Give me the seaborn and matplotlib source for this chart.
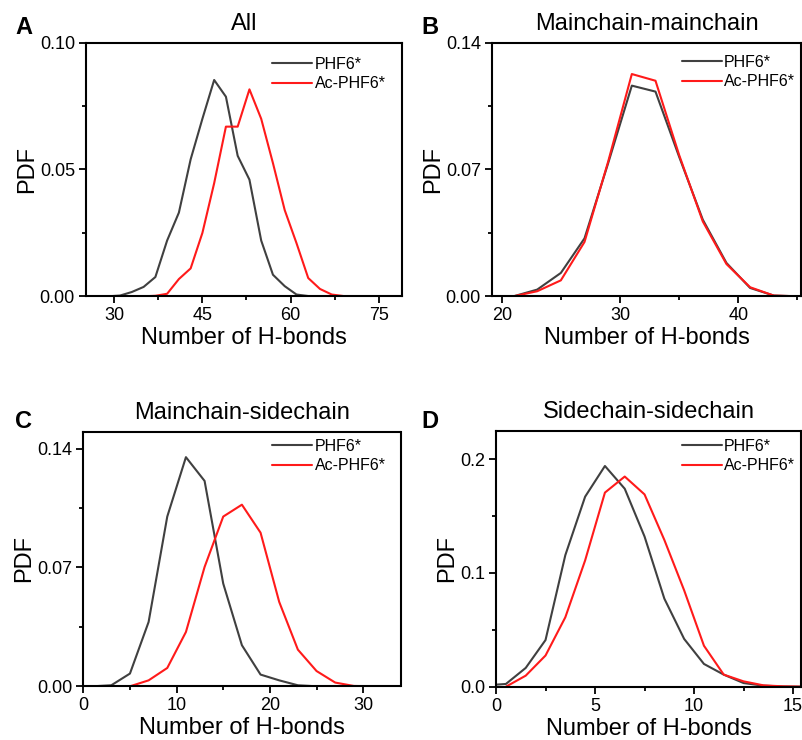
import numpy as np
import pandas as pd
import matplotlib
matplotlib.use("Agg")
import matplotlib.pyplot as plt
from matplotlib.ticker import MultipleLocator, FormatStrFormatter
import seaborn as sns

# ---------------- data ----------------
# Panel A: All
a_x_phf6 = [29, 31, 33, 35, 37, 39, 41, 43, 45, 47, 49, 51, 53, 55, 57, 59, 61, 63, 65, 67, 69]
a_y_phf6 = [0.0, 0.0003, 0.0017, 0.0037, 0.0076, 0.022, 0.033, 0.054, 0.070, 0.0853, 0.0787,
            0.0554, 0.046, 0.022, 0.0085, 0.004, 0.0007, 0.0001, 0.0, 0.0, 0.0]
a_x_ac = [27, 29, 31, 33, 35, 37, 39, 41, 43, 45, 47, 49, 51, 53, 55, 57, 59, 61, 63, 65, 67, 69, 71]
a_y_ac = [0.0, 0.0, 0.0, 0.0, 0.0, 0.0002, 0.001, 0.0068, 0.011, 0.025, 0.0446, 0.0669, 0.0669,
          0.0816, 0.070, 0.0525, 0.034, 0.021, 0.0072, 0.0029, 0.0007, 0.0001, 0.0]

# Panel B: Mainchain-mainchain
b_x = [19, 21, 23, 25, 27, 29, 31, 33, 35, 37, 39, 41, 43, 45]
b_y_phf6 = [0.0, 0.0, 0.0037, 0.0129, 0.032, 0.0735, 0.1163, 0.113, 0.077, 0.0423, 0.0184, 0.0046, 0.0004, 0.0]
b_y_ac = [0.0, 0.0, 0.0028, 0.0088, 0.030, 0.0744, 0.1227, 0.119, 0.078, 0.0413, 0.0178, 0.005, 0.0004, 0.0]

# Panel C: Mainchain-sidechain
c_x_phf6 = [1, 3, 5, 7, 9, 11, 13, 15, 17, 19, 21, 23, 25]
c_y_phf6 = [0.0, 0.0006, 0.0075, 0.0379, 0.100, 0.135, 0.121, 0.0605, 0.0242, 0.0069, 0.0035, 0.0006, 0.0]
c_x_ac = [1, 3, 5, 7, 9, 11, 13, 15, 17, 19, 21, 23, 25, 27, 29, 31]
c_y_ac = [0.0, 0.0, 0.0, 0.0035, 0.0108, 0.032, 0.0703, 0.100, 0.107, 0.0905, 0.0497, 0.0216,
          0.009, 0.0022, 0.0002, 0.0]

# Panel D: Sidechain-sidechain
d_x_phf6 = [0, 0.5, 1.5, 2.5, 3.5, 4.5, 5.5, 6.5, 7.5, 8.5, 9.5, 10.5, 11.5, 12.5, 13.5, 14.5, 15.5]
d_y_phf6 = [0.0018, 0.0024, 0.0165, 0.041, 0.1156, 0.167, 0.194, 0.174, 0.132, 0.0774, 0.042,
            0.020, 0.0106, 0.0032, 0.0009, 0.0002, 0.0]
d_x_ac = [0.5, 1.5, 2.5, 3.5, 4.5, 5.5, 6.5, 7.5, 8.5, 9.5, 10.5, 11.5, 12.5, 13.5, 14.5, 15.5]
d_y_ac = [0.0, 0.0097, 0.0274, 0.061, 0.111, 0.1706, 0.1847, 0.169, 0.129, 0.0847, 0.036,
          0.0106, 0.0047, 0.0012, 0.0003, 0.0]

series_names = ["PHF6*", "Ac-PHF6*"]
titles = ["All", "Mainchain-mainchain", "Mainchain-sidechain", "Sidechain-sidechain"]
letters = ["A", "B", "C", "D"]

# ---------------- style ----------------
sns.set_style("ticks")
plt.rcParams["font.family"] = ["Liberation Sans", "DejaVu Sans"]
plt.rcParams["axes.linewidth"] = 1.5
plt.rcParams["text.color"] = "black"
plt.rcParams["axes.labelcolor"] = "black"
plt.rcParams["xtick.color"] = "black"
plt.rcParams["ytick.color"] = "black"
plt.rcParams["xtick.labelcolor"] = "black"
plt.rcParams["ytick.labelcolor"] = "black"

colors = {"PHF6*": "#404040", "Ac-PHF6*": "#ff1a1a"}

fig = plt.figure(figsize=(8.02, 7.40), dpi=100)
W, H = 802, 740

boxes = [
    (86, 42.7, 401.7, 296.3),
    (492, 42.7, 801, 296.3),
    (83.3, 431.7, 400.5, 686.3),
    (496, 430.7, 801, 686.7),
]
axes = [fig.add_axes([l / W, 1 - b / H, (r - l) / W, (b - t) / H]) for (l, t, r, b) in boxes]

panels = [
    (a_x_phf6, a_y_phf6, a_x_ac, a_y_ac),
    (b_x, b_y_phf6, b_x, b_y_ac),
    (c_x_phf6, c_y_phf6, c_x_ac, c_y_ac),
    (d_x_phf6, d_y_phf6, d_x_ac, d_y_ac),
]

xlims = [(25.2, 78.9), (19.18, 45.3), (0, 34.0), (0, 15.4)]
ylims = [(0, 0.10), (0, 0.14), (0, 0.15), (0, 0.225)]
xmaj = [15, 10, 10, 5]
ymaj = [0.05, 0.07, 0.07, 0.1]
yfmt = ["%.2f", "%.2f", "%.2f", "%.1f"]
leg_right_px = [16, 6, 15, 6]
leg_top_px = [8, 6, 1, 2]

for i, ax in enumerate(axes):
    x1, y1, x2, y2 = panels[i]
    df = pd.concat([
        pd.DataFrame({"x": x1, "y": y1, "s": series_names[0]}),
        pd.DataFrame({"x": x2, "y": y2, "s": series_names[1]}),
    ], ignore_index=True)
    sns.lineplot(data=df, x="x", y="y", hue="s", palette=colors, ax=ax,
                 linewidth=1.5, estimator=None, sort=True)
    ax.set_xlim(*xlims[i])
    ax.set_ylim(*ylims[i])
    ax.xaxis.set_major_locator(MultipleLocator(xmaj[i]))
    ax.xaxis.set_minor_locator(MultipleLocator(xmaj[i] / 2))
    ax.yaxis.set_major_locator(MultipleLocator(ymaj[i]))
    ax.yaxis.set_minor_locator(MultipleLocator(ymaj[i] / 2))
    ax.yaxis.set_major_formatter(FormatStrFormatter(yfmt[i]))
    ax.tick_params(which="major", direction="out", length=5, width=1.3, labelsize=13, pad=3,
                   colors="black")
    ax.tick_params(which="minor", direction="out", length=3, width=1.3, colors="black")
    for sp in ax.spines.values():
        sp.set_visible(True)
        sp.set_linewidth(1.5)
        sp.set_color("black")
    ax.set_xlabel("Number of H-bonds", fontsize=17, labelpad=2, color="black")
    ax.set_ylabel("PDF", fontsize=17, labelpad=1, color="black")
    ax.set_title(titles[i], fontsize=17, pad=9, color="black")
    l, t, r, b = boxes[i]
    aw, ah = r - l, b - t
    leg = ax.legend(title=None, loc="upper right", fontsize=11.5, frameon=False,
                    handlelength=2.5, handletextpad=0.15, labelspacing=0.3,
                    borderpad=0.0, borderaxespad=0.0,
                    bbox_to_anchor=(1.0 - leg_right_px[i] / aw, 1.0 - (leg_top_px[i] + 6) / ah))
    for line in leg.get_lines():
        line.set_linewidth(1.5)
    for txt in leg.get_texts():
        txt.set_color("black")

# panel letters
letter_pos = [(24, 27), (430, 27), (24, 421), (430, 421)]
for L, (px, py) in zip(letters, letter_pos):
    fig.text(px / W, 1 - py / H, L, fontsize=17, fontweight="bold",
             ha="center", va="center", color="black")

fig.savefig("out.png", dpi=100)
